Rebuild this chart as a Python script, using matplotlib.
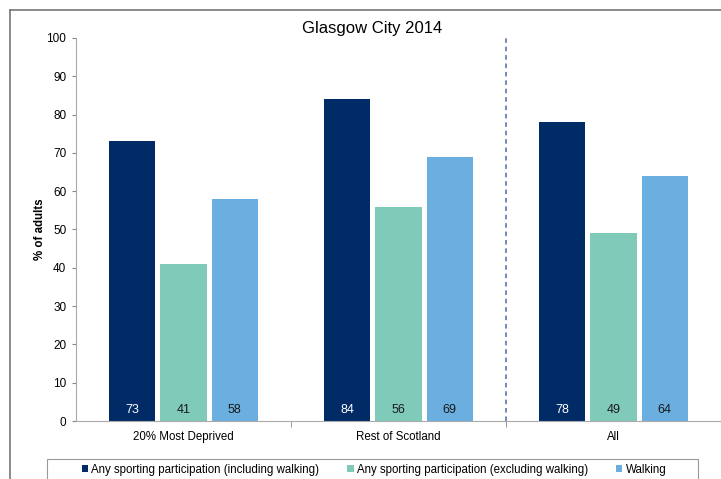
import numpy as np
import matplotlib
matplotlib.use("Agg")
import matplotlib.pyplot as plt
from matplotlib.lines import Line2D
from matplotlib.patches import Rectangle

plt.rcParams["font.family"] = ["Liberation Sans", "DejaVu Sans"]

# ── data ─────────────────────────────────────────────────────────────
groups = ["20% Most Deprived", "Rest of Scotland", "All"]
series_names = [
    "Any sporting participation (including walking)",
    "Any sporting participation (excluding walking)",
    "Walking",
]
incl_walking = [73, 84, 78]
excl_walking = [41, 56, 49]
walking = [58, 69, 64]

colors = ["#002B66", "#80CAB9", "#6BAEE0"]
label_colors = ["white", "#1a1a1a", "#1a1a1a"]

# ── figure ───────────────────────────────────────────────────────────
fig = plt.figure(figsize=(7.21, 4.79), dpi=100)
W, H = 721, 479
ax = fig.add_axes([76 / W, (H - 421) / H, (W - 76) / W, 383 / H])

x = np.arange(len(groups))
bar_w = 0.215
step = 0.238
for i, (vals, col, lc) in enumerate(zip([incl_walking, excl_walking, walking],
                                        colors, label_colors)):
    pos = x + (i - 1) * step
    ax.bar(pos, vals, width=bar_w, color=col, label=series_names[i], zorder=2)
    for p, v in zip(pos, vals):
        ax.text(p, 2.9, f"{v}", ha="center", va="center", color=lc,
                fontsize=9, zorder=3)

ax.set_xlim(-0.5, 2.5)
ax.set_ylim(0, 100)
ax.set_yticks(range(0, 101, 10))
ax.set_xticks(x)
ax.set_xticklabels(groups, fontsize=8.3)
ax.tick_params(axis="x", length=0, pad=7)
ax.set_xticks([0.5, 1.5], minor=True)
ax.tick_params(axis="x", which="minor", length=4, color="#888888", direction="out")
ax.tick_params(axis="y", length=3, color="#888888", labelsize=8.5, pad=4)

for s in ["top", "right"]:
    ax.spines[s].set_visible(False)
ax.spines["left"].set_color("#aaaaaa")
ax.spines["bottom"].set_color("#aaaaaa")

ax.set_ylabel("% of adults", fontsize=8.3, fontweight="bold", labelpad=0)

# dashed separator before the overall group
ax.axvline(1.5, ymin=0, ymax=1.008, color="#4A6C9E", linestyle=(0, (3, 2.5)),
           linewidth=1.1, clip_on=False, zorder=1)

fig.text(372 / W, 1 - 29 / H, "Glasgow City 2014", ha="center", va="center",
         fontsize=12)

# outer frame (top and left edges visible)
fig.add_artist(Line2D([10 / W, 1], [1 - 10 / H, 1 - 10 / H],
                      transform=fig.transFigure, color="#777777", linewidth=1.2))
fig.add_artist(Line2D([10 / W, 10 / W], [0, 1 - 10 / H],
                      transform=fig.transFigure, color="#777777", linewidth=1.2))

# legend box runs off the bottom edge
fig.add_artist(Rectangle((47 / W, -0.05), (698 - 47) / W, 0.05 + (H - 459) / H,
                         transform=fig.transFigure, facecolor="white",
                         edgecolor="#999999", linewidth=0.8))
fig.legend(loc="center", ncol=3, bbox_to_anchor=(374 / W, 1 - 470 / H),
           fontsize=8.3, frameon=False,
           handlelength=0.55, handleheight=0.55, handletextpad=0.3,
           columnspacing=2.4, borderaxespad=0)

fig.savefig("out.png", dpi=100)
